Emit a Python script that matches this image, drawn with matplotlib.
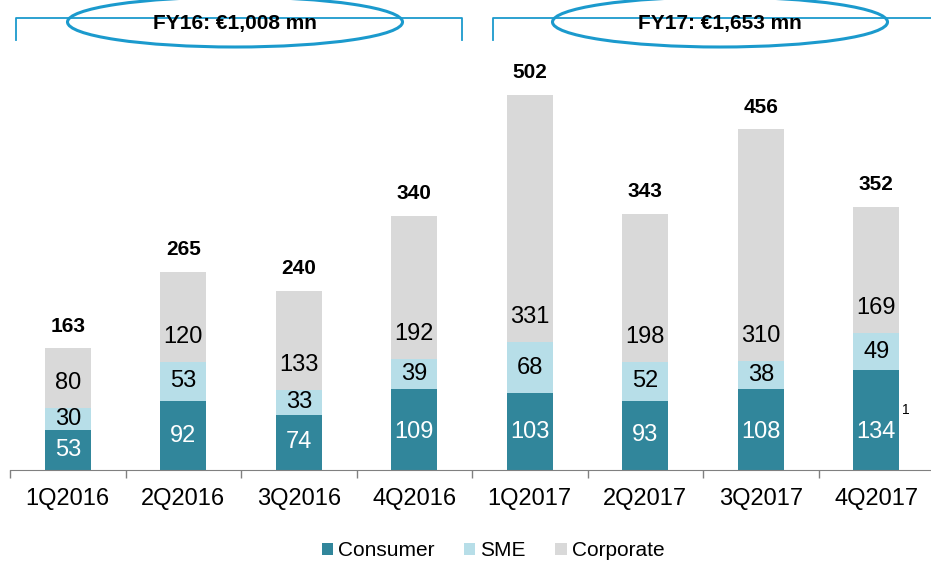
import matplotlib.pyplot as plt
from matplotlib.patches import Ellipse
import numpy as np

plt.rcParams['font.family'] = ['Liberation Sans', 'DejaVu Sans']

# Datos
quarters = ["1Q2016", "2Q2016", "3Q2016", "4Q2016", "1Q2017", "2Q2017", "3Q2017", "4Q2017"]
consumer = [53, 92, 74, 109, 103, 93, 108, 134]
sme = [30, 53, 33, 39, 68, 52, 38, 49]
corporate = [80, 120, 133, 192, 331, 198, 310, 169]
totals = [163, 265, 240, 340, 502, 343, 456, 352]
fy_labels = ["FY16: €1,008 mn", "FY17: €1,653 mn"]

c_cons = "#31869b"
c_sme = "#b7dee8"
c_corp = "#d9d9d9"

fig = plt.figure(figsize=(9.31, 5.63), dpi=100)
ax = fig.add_axes([10 / 931, 93 / 563, 924 / 931, 430 / 563])

x = np.arange(len(quarters))
w = 0.4
cons = np.array(consumer)
sm = np.array(sme)
corp = np.array(corporate)

ax.bar(x, cons, w, color=c_cons, label="Consumer")
ax.bar(x, sm, w, bottom=cons, color=c_sme, label="SME")
ax.bar(x, corp, w, bottom=cons + sm, color=c_corp, label="Corporate")

# Etiquetas de segmentos
for i in range(len(x)):
    ax.text(x[i], min(cons[i] / 2, 51), str(consumer[i]), ha="center", va="center",
            color="white", fontsize=17)
    ax.text(x[i], cons[i] + sm[i] / 2, str(sme[i]), ha="center", va="center",
            color="black", fontsize=17)
    ax.annotate(str(corporate[i]), (x[i], cons[i] + sm[i]), xytext=(0, 18),
                textcoords="offset points", ha="center", va="center",
                color="black", fontsize=17)
    ax.annotate(str(totals[i]), (x[i], totals[i]), xytext=(0, 16),
                textcoords="offset points", ha="center", va="center",
                fontsize=15, fontweight="bold")

# Nota al pie en 4Q2017
ax.annotate("1", (x[-1] + w / 2, 80), xytext=(2, 0),
            textcoords="offset points", ha="left", va="center", fontsize=10)

ax.set_xlim(-0.5, len(x) - 0.5)
ax.set_ylim(0, 430 / 0.747)
ax.set_xticks(x)
ax.set_xticklabels(quarters, fontsize=17)
ax.tick_params(axis="x", which="major", length=0, pad=13)
ax.set_xticks(np.arange(len(x) + 1) - 0.5, minor=True)
ax.tick_params(axis="x", which="minor", length=6, color="#808080", width=1)
ax.set_yticks([])
for s in ["top", "right", "left"]:
    ax.spines[s].set_visible(False)
ax.spines["bottom"].set_color("#808080")

leg = fig.legend(loc="center", bbox_to_anchor=(493 / 931, 1 - 551 / 563), ncol=3,
                 frameon=False, fontsize=15, handlelength=0.55, handleheight=0.55,
                 columnspacing=1.4, handletextpad=0.25)

# Llaves superiores con elipses
ov = fig.add_axes([0, 0, 1, 1])
ov.set_xlim(0, 931)
ov.set_ylim(563, 0)
ov.axis("off")
blue = "#1b9acd"
brackets = [(16, 462, 235), (493, 940, 720)]
for (x0, x1, xc), lab in zip(brackets, fy_labels):
    ov.plot([x0, x0, x1, x1], [40, 18, 18, 40], color=blue, lw=1.3)
    ov.add_patch(Ellipse((xc, 22), 335, 50, facecolor="white", edgecolor=blue, lw=2.2))
    ov.text(xc, 24, lab, ha="center", va="center", fontsize=15, fontweight="bold")

fig.savefig("out.png", dpi=100)
